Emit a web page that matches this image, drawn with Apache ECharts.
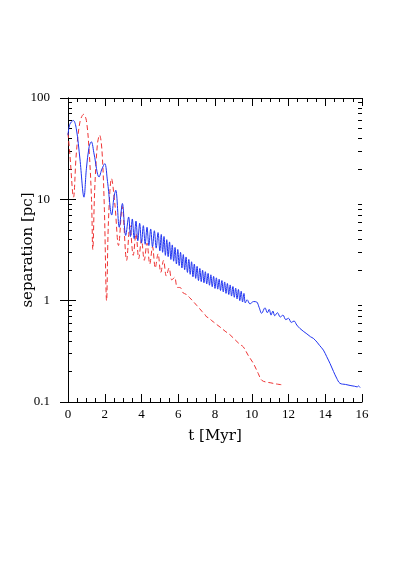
<!DOCTYPE html>
<html>
<head>
<meta charset="utf-8">
<script src="https://cdn.jsdelivr.net/npm/echarts@6/dist/echarts.min.js"></script>
<style>
  html, body { margin: 0; padding: 0; background: #fff; }
  #chart { width: 399px; height: 564px; }
</style>
</head>
<body>
<div id="chart"></div>
<script>
// blue solid curve (t in Myr, separation in pc)
var blueT = [0, 0.1, 0.29, 0.45, 0.65, 0.87, 1.0, 1.15, 1.27, 1.42, 1.69, 1.85, 2.0, 2.15, 2.38, 2.5, 2.6, 2.79, 2.96, 3.14,
  3.3, 3.4, 3.5, 3.6, 3.7, 3.8, 3.9, 4.0, 4.1, 4.2, 4.3, 4.4, 4.5, 4.6, 4.7, 4.8, 4.9,
  5.0, 5.075, 5.15, 5.225, 5.3, 5.375, 5.45, 5.525, 5.6, 5.675, 5.75, 5.825, 5.9, 5.975, 6.05, 6.125, 6.2, 6.275,
  6.35, 6.425, 6.5, 6.575, 6.65, 6.725, 6.8, 6.875, 6.95, 7.025, 7.1, 7.175, 7.25, 7.325, 7.4, 7.475, 7.55, 7.625,
  7.7, 7.775, 7.85, 7.925, 8.0, 8.075, 8.15, 8.225, 8.3, 8.375, 8.45, 8.525, 8.6, 8.675, 8.75, 8.825, 8.9, 8.975,
  9.05, 9.125, 9.2, 9.275, 9.35, 9.425, 9.5, 9.575, 9.65, 9.75, 9.9, 10.1, 10.27, 10.4, 10.54, 10.72, 10.85, 10.95,
  11.05, 11.15, 11.25, 11.4, 11.55, 11.7, 11.85, 12.0, 12.15, 12.3, 12.45, 12.63, 12.8, 13.0, 13.2, 13.35, 13.55,
  13.7, 13.9, 14.08, 14.26, 14.45, 14.62, 14.8, 15.1, 15.4, 15.6, 15.74, 15.8, 15.9];
var blueV = [43, 55, 60, 50, 25, 10.5, 20, 33, 37, 28, 16.6, 20, 22.5, 15, 7.0, 10.5, 12.3, 5.3, 9.1, 4.4,
  6.7, 4.3, 6.4, 4.1, 6.1, 3.9, 5.8, 3.7, 5.5, 3.6, 5.3, 3.5, 5.1, 3.4, 4.9, 3.3, 4.7,
  3.1, 4.5, 3.0, 4.3, 2.8, 4.0, 2.72, 3.8, 2.55, 3.55, 2.45, 3.35, 2.3, 3.2, 2.22, 3.0, 2.1, 2.85,
  2.02, 2.7, 1.9, 2.55, 1.82, 2.42, 1.72, 2.3, 1.66, 2.18, 1.58, 2.08, 1.54, 2.0, 1.5, 1.93, 1.46, 1.86,
  1.42, 1.8, 1.37, 1.74, 1.32, 1.68, 1.3, 1.63, 1.26, 1.58, 1.22, 1.53, 1.18, 1.48, 1.15, 1.43, 1.11, 1.38,
  1.08, 1.33, 1.04, 1.29, 1.0, 1.24, 0.97, 1.18, 0.95, 1.02, 0.93, 0.98, 0.97, 0.86, 0.75, 0.85, 0.76, 0.82,
  0.72, 0.79, 0.71, 0.76, 0.69, 0.72, 0.65, 0.67, 0.61, 0.63, 0.575, 0.53, 0.5, 0.47, 0.44, 0.425, 0.39,
  0.36, 0.325, 0.28, 0.24, 0.2, 0.172, 0.153, 0.149, 0.145, 0.143, 0.141, 0.144, 0.139];

// red dashed curve
var redT = [0, 0.1, 0.3, 0.45, 0.65, 0.85, 1.0, 1.15, 1.28, 1.35, 1.45, 1.6, 1.72, 1.85, 1.98, 2.1, 2.2, 2.37, 2.55, 2.75,
  2.95, 3.19, 3.37, 3.55, 3.7, 3.85, 4.0, 4.15, 4.3, 4.45, 4.6, 4.75, 4.9, 5.05, 5.2, 5.35, 5.5, 5.65, 5.8, 5.95,
  6.1, 6.25, 6.45, 6.6, 6.82, 7.0, 7.15, 7.3, 7.45, 7.55, 7.7, 7.8, 7.9, 8.1, 8.27, 8.55, 8.82, 9.1, 9.36, 9.54,
  9.8, 10.09, 10.36, 10.54, 10.8, 11.0, 11.3, 11.63];
var redV = [45, 28, 10.5, 28, 58, 69, 60, 30, 10, 3.2, 12, 35, 43, 30, 8, 1.0, 6, 16, 9, 3.5,
  8.5, 2.5, 5.5, 2.8, 4.6, 2.6, 4.0, 2.5, 3.7, 2.3, 3.4, 2.1, 2.9, 1.9, 2.5, 1.75, 2.1, 1.6, 1.7, 1.35,
  1.35, 1.2, 1.15, 1.08, 0.98, 0.9, 0.84, 0.78, 0.73, 0.69, 0.67, 0.64, 0.62, 0.58, 0.55, 0.5, 0.46, 0.41, 0.37, 0.35,
  0.29, 0.24, 0.19, 0.164, 0.157, 0.155, 0.151, 0.148];

// tick values of the log axis
var majorY = [0.1, 1, 10, 100];
var minorY = [0.2, 0.3, 0.4, 0.5, 0.6, 0.7, 0.8, 0.9, 2, 3, 4, 5, 6, 7, 8, 9, 20, 30, 40, 50, 60, 70, 80, 90];

var xMin = 0, xMax = 16;

function pairs(t, v) {
  var out = [];
  for (var i = 0; i < t.length; i++) out.push([t[i], v[i]]);
  return out;
}

var tickFont = "'Liberation Serif', serif";
var nameFont = "'DejaVu Serif', serif";
var tickLine = { color: '#000', width: 1 };

function minorAxis(pos) {
  return {
    type: 'log', logBase: 10, min: 0.1, max: 100, position: pos,
    axisLine: { show: false },
    axisTick: { inside: true, length: 4, lineStyle: tickLine, customValues: minorY },
    axisLabel: { show: false },
    splitLine: { show: false }
  };
}

var chart = echarts.init(document.getElementById('chart'));
chart.setOption({
  animation: false,
  grid: { left: 68, right: 37, top: 98, bottom: 162 },
  xAxis: [{
    type: 'value', min: xMin, max: xMax, interval: 2,
    name: 't [Myr]', nameLocation: 'middle', nameGap: 27, nameMoveOverlap: false,
    nameTextStyle: { fontFamily: nameFont, fontSize: 15, color: '#000' },
    axisLine: { lineStyle: tickLine },
    axisTick: { inside: true, length: 8, lineStyle: tickLine },
    minorTick: { show: true, splitNumber: 4, length: 4, lineStyle: tickLine },
    axisLabel: { fontFamily: tickFont, fontSize: 13, color: '#000', margin: 6 },
    splitLine: { show: false }
  }, {
    type: 'value', min: xMin, max: xMax, interval: 2, position: 'top',
    axisLine: { lineStyle: tickLine },
    axisTick: { inside: true, length: 8, lineStyle: tickLine },
    minorTick: { show: true, splitNumber: 4, length: 4, lineStyle: tickLine },
    axisLabel: { show: false },
    splitLine: { show: false }
  }],
  yAxis: [{
    type: 'log', logBase: 10, min: 0.1, max: 100,
    name: 'separation [pc]', nameLocation: 'middle', nameGap: 32, nameRotate: 90, nameMoveOverlap: false,
    nameTextStyle: { fontFamily: nameFont, fontSize: 15, color: '#000' },
    axisLine: { lineStyle: tickLine },
    axisTick: { inside: true, length: 8, lineStyle: tickLine, customValues: majorY },
    axisLabel: { fontFamily: tickFont, fontSize: 13, color: '#000', margin: 18, customValues: majorY,
      formatter: function (v) { return String(+(+v).toPrecision(3)); } },
    splitLine: { show: false }
  }, {
    type: 'log', logBase: 10, min: 0.1, max: 100, position: 'right',
    axisLine: { lineStyle: tickLine },
    axisTick: { inside: true, length: 8, lineStyle: tickLine, customValues: majorY },
    axisLabel: { show: false },
    splitLine: { show: false }
  }, minorAxis('left'), minorAxis('right')],
  series: [{
    type: 'line',
    data: pairs(redT, redV),
    showSymbol: false,
    smooth: 0.35,
    lineStyle: { color: '#ee3333', width: 1, type: [5, 3] }
  }, {
    type: 'line',
    data: pairs(blueT, blueV),
    showSymbol: false,
    smooth: 0.35,
    lineStyle: { color: '#1f33f0', width: 1 }
  }]
});
</script>
</body>
</html>
